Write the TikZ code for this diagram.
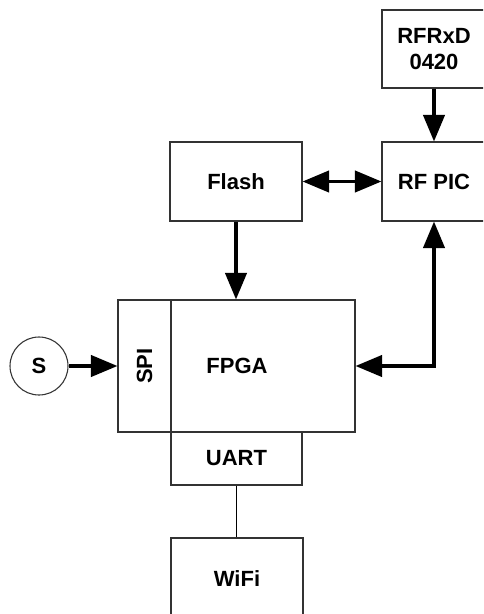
\documentclass[tikz,border=0pt]{standalone}
\usepackage{fontspec}
\setmainfont{Liberation Sans}
\usetikzlibrary{positioning,calc,arrows.meta}
\newdimen\pxu \pxu=0.75pt
\tikzset{
  blk/.style     = {draw=black!80, fill=white, line width=0.8pt, inner sep=0pt,
                    font=\fontsize{16.5}{19.5}\selectfont\bfseries, align=center},
  lbl/.style     = {font=\fontsize{16.5}{19.5}\selectfont\bfseries, inner sep=0pt},
  disc/.style    = {circle, draw=black!80, fill=white, line width=0.8pt, minimum size=58\pxu,
                    inner sep=0pt, font=\fontsize{16.5}{19.5}\selectfont\bfseries},
  sig/.style     = {line width=2.6pt, -{Triangle[length=20pt,width=16pt]}},
  sigboth/.style = {line width=2.6pt, {Triangle[length=20pt,width=16pt]}-{Triangle[length=20pt,width=16pt]}},
  wire/.style    = {line width=1pt, draw=black},
}

\begin{document}
\begin{tikzpicture}[x=0.75pt,y=-0.75pt]
  \useasboundingbox (0,0) rectangle (483,614);
  \fill[white] (0,0) rectangle (483,614);
  \clip (0,0) rectangle (483,614);

  % ---------- radio side ----------
  \node[blk, minimum width=104\pxu, minimum height=78\pxu] (rfrxd) at (434,49) {RFRxD\\0420};
  \node[blk, minimum width=104\pxu, minimum height=79\pxu] (rfpic) at (434,181.5) {RF PIC};
  \node[blk, minimum width=132\pxu, minimum height=79\pxu] (flash) at (236,181.5) {Flash};

  % ---------- FPGA with its ports ----------
  \node[blk, minimum width=53\pxu, minimum height=132\pxu] (spi) at (144.5,366) {};
  \node[lbl, rotate=90] (spilbl) at (spi) {SPI};
  \node[blk, minimum width=184\pxu, minimum height=132\pxu] (fpga) at (263,366) {};
  \node[lbl] (fpgalbl) at (237,366) {FPGA};
  \node[blk, minimum width=131\pxu, minimum height=53\pxu] (uart) at (236.5,458.5) {UART};
  \node[blk, minimum width=132\pxu, minimum height=82\pxu] (wifi) at (237,579) {WiFi};

  \node[disc] (s) at (39,366) {S};

  % ---------- connections ----------
  \draw[sig] (rfrxd.south) -- (rfpic.north);
  \draw[sigboth] (flash.east) -- (rfpic.west);
  \draw[sig] (flash.south) -- (flash.south |- fpga.north);
  \draw[sigboth] (rfpic.south) |- (fpga.east);
  \draw[sig] (s.east) -- (spi.west);
  \draw[wire] (uart.south) -- (uart.south |- wifi.north);
\end{tikzpicture}
\end{document}
